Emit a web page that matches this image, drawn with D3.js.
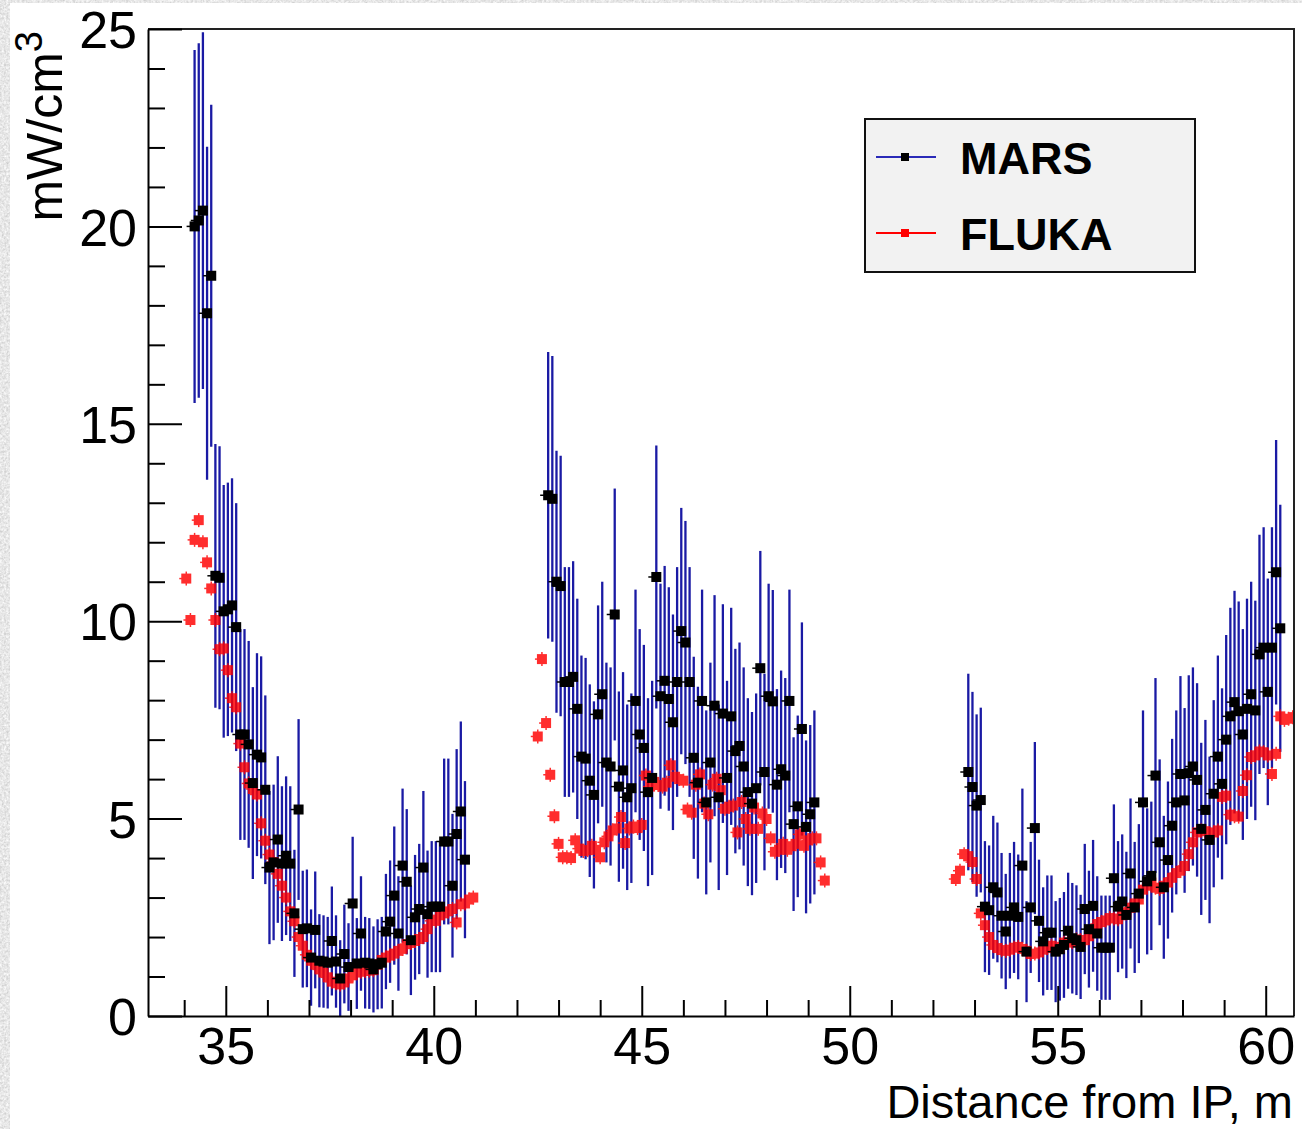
<!DOCTYPE html>
<html><head><meta charset="utf-8">
<script src="https://cdn.jsdelivr.net/npm/d3@7"></script>
<style>html,body{margin:0;padding:0;background:#fff;}svg{display:block;}</style>
</head><body>
<svg id="c" width="1302" height="1129"></svg>
<script>
// ---- data ----
const binWidth = 0.1;
const xMajorTicks = [35, 40, 45, 50, 55, 60];
const yMajorTicks = [0, 5, 10, 15, 20, 25];
const seriesNames = ["MARS", "FLUKA"];

const marsStarts = [34.25, 42.75, 52.85];
const marsSeg1 = [20.0,20.15,20.4,17.8,18.75,11.15,11.1,10.25,10.3,10.4,9.85,
7.13,7.13,6.88,5.9,6.62,6.55,5.73,3.76,3.89,4.47,
3.86,4.06,3.86,2.6,5.23,2.2,2.22,1.48,2.18,1.4,
1.38,1.35,1.9,1.38,0.95,1.57,1.24,2.85,1.33,2.09,
1.35,1.33,1.18,1.31,1.35,2.14,2.39,3.05,2.09,3.81,
3.4,1.92,2.5,2.71,3.76,2.58,2.77,2.77,2.77,4.42,
4.42,3.3,4.61,5.18,3.96];
const marsSeg1Err = [4.47,4.49,4.52,4.22,4.33,3.34,3.33,3.2,3.21,3.22,3.14,
2.67,2.67,2.62,2.43,2.57,2.56,2.39,1.94,1.97,2.11,
1.96,2.01,1.96,1.61,2.29,1.48,1.49,1.22,1.48,1.18,
1.17,1.16,1.38,1.17,0.97,1.25,1.11,1.69,1.15,1.45,
1.16,1.15,1.09,1.14,1.16,1.46,1.55,1.75,1.45,1.95,
1.84,1.39,1.58,1.65,1.94,1.61,1.66,1.66,1.66,2.1,
2.1,1.82,2.15,2.28,1.99];
const marsSeg2 = [13.19,13.1,11.0,10.89,8.46,8.46,8.59,7.78,6.57,6.52,
5.96,5.6,7.64,8.15,6.42,6.32,10.17,5.81,6.22,5.54,
5.77,7.98,7.13,6.79,5.67,6.03,11.12,8.1,8.49,8.03,
7.44,8.46,9.75,9.46,8.46,6.54,5.91,7.98,5.41,6.42,
7.86,5.54,7.66,6.03,7.59,6.71,6.84,6.32,5.67,5.38,
5.77,8.81,6.18,8.1,7.97,5.86,6.25,6.09,7.98,4.86,
5.31,7.27,4.79,5.11,5.41];
const marsSeg2Err = [3.63,3.62,3.32,3.3,2.91,2.91,2.93,2.79,2.56,2.55,
2.44,2.37,2.76,2.85,2.53,2.51,3.19,2.41,2.49,2.35,
2.4,2.82,2.67,2.61,2.38,2.46,3.33,2.85,2.91,2.83,
2.73,2.91,3.12,3.08,2.91,2.56,2.43,2.82,2.33,2.53,
2.8,2.35,2.77,2.46,2.75,2.59,2.62,2.51,2.38,2.32,
2.4,2.97,2.49,2.85,2.82,2.42,2.5,2.47,2.82,2.2,
2.3,2.7,2.19,2.26,2.33];
const marsSeg3 = [6.18,5.8,5.33,5.47,2.77,2.68,3.26,3.13,2.54,2.14,
2.54,2.75,2.51,3.81,1.63,2.75,4.76,2.41,1.89,2.11,
2.11,1.63,1.69,1.8,2.16,1.97,1.92,1.75,2.71,2.2,
2.79,2.09,1.73,1.73,1.73,3.49,2.77,2.9,2.56,3.61,
2.75,3.1,5.41,3.41,3.55,6.09,4.4,3.26,3.95,4.82,
5.41,6.13,5.46,6.15,6.32,5.98,4.74,5.22,4.46,5.63,
6.57,5.88,7.0,7.59,7.95,7.72,7.13,7.78,8.15,7.74,
9.16,9.33,8.21,9.33,11.24,9.82];
const marsSeg3Err = [2.49,2.41,2.31,2.34,1.66,1.64,1.81,1.77,1.59,1.46,
1.59,1.66,1.58,1.95,1.28,1.66,2.18,1.55,1.37,1.45,
1.45,1.28,1.3,1.34,1.47,1.4,1.39,1.32,1.65,1.48,
1.67,1.45,1.32,1.32,1.32,1.87,1.66,1.7,1.6,1.9,
1.66,1.76,2.33,1.85,1.88,2.47,2.1,1.81,1.99,2.2,
2.33,2.48,2.34,2.48,2.51,2.45,2.18,2.28,2.11,2.37,
2.56,2.42,2.65,2.75,2.82,2.78,2.67,2.79,2.85,2.78,
3.03,3.05,2.87,3.05,3.35,3.13];

const flukaStarts = [34.05, 42.5, 52.55];
const flukaSeg1 = [11.08,10.03,12.06,12.56,12.0,11.49,10.83,10.03,9.29,9.31,
8.76,8.05,7.82,6.9,6.3,5.89,5.75,5.61,4.88,4.44,
4.09,3.9,3.6,3.3,3.0,2.65,2.4,2.0,1.78,1.55,
1.4,1.3,1.18,1.1,0.98,0.87,0.83,0.8,0.85,0.95,
1.03,1.1,1.12,1.14,1.15,1.16,1.3,1.42,1.48,1.53,
1.58,1.65,1.7,1.82,1.85,1.9,1.95,2.0,2.2,2.41,
2.41,2.55,2.6,2.65,2.71,2.37,2.83,2.85,2.95,3.0];
const flukaSeg2 = [7.08,9.04,7.42,6.11,5.06,4.36,4.02,4.02,4.0,4.45,
4.24,4.18,4.2,4.31,4.21,4.02,4.4,4.55,4.7,4.75,
5.04,4.38,4.75,4.8,4.76,4.84,6.09,5.81,5.93,5.85,
5.81,5.91,6.35,6.06,6.0,5.96,5.23,5.15,5.86,6.12,
5.38,5.11,5.86,6.01,5.72,5.25,5.3,5.33,4.65,5.42,
4.99,4.74,5.28,4.74,5.13,4.99,4.5,4.16,4.21,4.36,
4.21,4.3,4.36,4.6,4.31,4.45,4.5,4.5,3.89,3.43];
const flukaSeg3 = [3.47,3.68,4.1,4.05,3.9,3.47,2.6,2.3,2.0,1.8,
1.72,1.67,1.65,1.68,1.73,1.75,1.7,1.65,1.57,1.58,
1.61,1.68,1.72,1.78,1.72,1.72,1.86,1.86,1.87,1.94,
1.92,1.92,2.02,2.15,2.33,2.38,2.42,2.48,2.47,2.45,
2.55,2.62,2.74,2.85,2.95,3.2,3.3,3.38,3.25,3.22,
3.3,3.38,3.5,3.62,3.68,3.8,4.1,4.4,4.65,4.7,
4.68,4.62,4.65,4.7,5.55,5.58,5.1,5.06,5.05,5.7,
6.1,6.56,6.6,6.7,6.68,6.6,6.13,6.64,7.59,7.5,
7.53,7.57];

// ---- build ----
function build(start, vals, errs) {
  return vals.map((v, i) => ({ x: start + i * binWidth, y: v, e: errs ? errs[i] : 0 }));
}
const mars = [].concat(
  build(marsStarts[0], marsSeg1, marsSeg1Err),
  build(marsStarts[1], marsSeg2, marsSeg2Err),
  build(marsStarts[2], marsSeg3, marsSeg3Err));
const fluka = [].concat(
  build(flukaStarts[0], flukaSeg1),
  build(flukaStarts[1], flukaSeg2),
  build(flukaStarts[2], flukaSeg3));

const L = 148, R = 1294, T = 29, B = 1016;
const x = d3.scaleLinear().domain([33.13, 60.68]).range([L, R]);
const y = d3.scaleLinear().domain([0, 25]).range([B, T]);
const FONT = "'Liberation Sans', Arial, Helvetica, sans-serif";
const BLUE = "#1a1aa4", RED = "#ff0000";
const MS = 10;

const svg = d3.select("#c");
const defs = svg.append("defs");
const f = defs.append("filter").attr("id", "paper").attr("x", 0).attr("y", 0).attr("width", 1).attr("height", 1);
f.append("feTurbulence").attr("type", "fractalNoise").attr("baseFrequency", 0.45).attr("numOctaves", 3).attr("seed", 4);
f.append("feColorMatrix").attr("type", "matrix")
  .attr("values", "0.5 0 0 0 0.55  0.5 0 0 0 0.55  0.5 0 0 0 0.55  0 0 0 0 1");
defs.append("clipPath").attr("id", "plotclip").append("rect")
  .attr("x", L).attr("y", T).attr("width", R - L).attr("height", B - T);

svg.append("rect").attr("width", 1302).attr("height", 1129).attr("fill", "#ddd").attr("filter", "url(#paper)");
svg.append("rect").attr("x", 10).attr("y", 3).attr("width", 1292).attr("height", 1126).attr("fill", "#fff");

const plot = svg.append("g").attr("clip-path", "url(#plotclip)");

// MARS error bars
plot.append("g").selectAll("line").data(mars).join("line")
  .attr("x1", d => x(d.x)).attr("x2", d => x(d.x))
  .attr("y1", d => y(d.y - d.e)).attr("y2", d => y(d.y + d.e))
  .attr("stroke", BLUE).attr("stroke-width", 2.3);

// FLUKA markers (semi-opaque over the blue bars)
const fg = plot.append("g").attr("opacity", 0.82);
fg.selectAll("line.fv").data(fluka).join("line")
  .attr("x1", d => x(d.x)).attr("x2", d => x(d.x))
  .attr("y1", d => y(d.y) - 7).attr("y2", d => y(d.y) + 7)
  .attr("stroke", RED).attr("stroke-width", 1.5);
fg.selectAll("line.fh").data(fluka).join("line")
  .attr("x1", d => x(d.x) - 7).attr("x2", d => x(d.x))
  .attr("y1", d => y(d.y)).attr("y2", d => y(d.y))
  .attr("stroke", RED).attr("stroke-width", 1.5);
fg.selectAll("rect").data(fluka).join("rect")
  .attr("x", d => x(d.x) - MS / 2).attr("y", d => y(d.y) - MS / 2)
  .attr("width", MS).attr("height", MS).attr("fill", RED);

// MARS markers
const mg = plot.append("g");
mg.selectAll("line").data(mars).join("line")
  .attr("x1", d => x(d.x) - 8).attr("x2", d => x(d.x))
  .attr("y1", d => y(d.y)).attr("y2", d => y(d.y))
  .attr("stroke", "#000").attr("stroke-width", 1.5);
mg.selectAll("rect").data(mars).join("rect")
  .attr("x", d => x(d.x) - MS / 2).attr("y", d => y(d.y) - MS / 2)
  .attr("width", MS).attr("height", MS).attr("fill", "#000");

// frame top/right
svg.append("path").attr("d", `M${L},${T}H${R}V${B}`).attr("fill", "none").attr("stroke", "#222").attr("stroke-width", 2);

// axes
const xMinor = d3.range(34, 61).filter(v => v % 5 !== 0);
const yMinor = d3.range(0, 26).filter(v => v % 5 !== 0);

function styleAxis(g) {
  g.selectAll("line").attr("stroke", "#000").attr("stroke-width", 2);
  g.selectAll("path.domain").attr("stroke", "#000").attr("stroke-width", 2);
  g.selectAll("text").attr("font-family", FONT).attr("font-size", 52).attr("fill", "#000");
}
const gxMinor = svg.append("g").attr("transform", `translate(0,${B})`)
  .call(d3.axisBottom(x).tickValues(xMinor).tickSizeInner(-16).tickSizeOuter(0).tickFormat(""));
gxMinor.select(".domain").remove();
styleAxis(gxMinor);
const gx = svg.append("g").attr("transform", `translate(0,${B})`)
  .call(d3.axisBottom(x).tickValues(xMajorTicks).tickSizeInner(-30).tickSizeOuter(0).tickPadding(11).tickFormat(d3.format("d")));
styleAxis(gx);

const gyMinor = svg.append("g").attr("transform", `translate(${L},0)`)
  .call(d3.axisLeft(y).tickValues(yMinor).tickSizeInner(-17).tickSizeOuter(0).tickFormat(""));
gyMinor.select(".domain").remove();
styleAxis(gyMinor);
const gy = svg.append("g").attr("transform", `translate(${L},0)`)
  .call(d3.axisLeft(y).tickValues(yMajorTicks).tickSizeInner(-34).tickSizeOuter(0).tickPadding(11).tickFormat(d3.format("d")));
styleAxis(gy);
gy.selectAll("text").attr("dy", "0.36em");

// axis titles
svg.append("text").attr("x", 1293).attr("y", 1118).attr("text-anchor", "end")
  .attr("font-family", FONT).attr("font-size", 47).attr("fill", "#000")
  .text("Distance from IP, m");
const yt = svg.append("text").attr("transform", "translate(62,31) rotate(-90)")
  .attr("text-anchor", "end").attr("font-family", FONT).attr("font-size", 50).attr("fill", "#000");
yt.append("tspan").text("mW/cm");
yt.append("tspan").attr("dy", -20).attr("font-size", 38).text("3");

// legend
const lg = svg.append("g");
lg.append("rect").attr("x", 865).attr("y", 119).attr("width", 330).attr("height", 153)
  .attr("fill", "#f2f2f2").attr("stroke", "#111").attr("stroke-width", 2);
const legendRows = [
  { name: seriesNames[0], line: "#2a2ab8", mark: "#000", cy: 157, ty: 174 },
  { name: seriesNames[1], line: RED, mark: RED, cy: 233, ty: 249.5 }
];
legendRows.forEach(r => {
  lg.append("line").attr("x1", 876).attr("x2", 936).attr("y1", r.cy).attr("y2", r.cy)
    .attr("stroke", r.line).attr("stroke-width", 2);
  lg.append("rect").attr("x", 901).attr("y", r.cy - 4).attr("width", 8).attr("height", 8).attr("fill", r.mark);
  lg.append("text").attr("x", 960).attr("y", r.ty).attr("font-family", FONT)
    .attr("font-weight", "bold").attr("font-size", 45).attr("fill", "#000").text(r.name);
});
</script>
</body></html>
